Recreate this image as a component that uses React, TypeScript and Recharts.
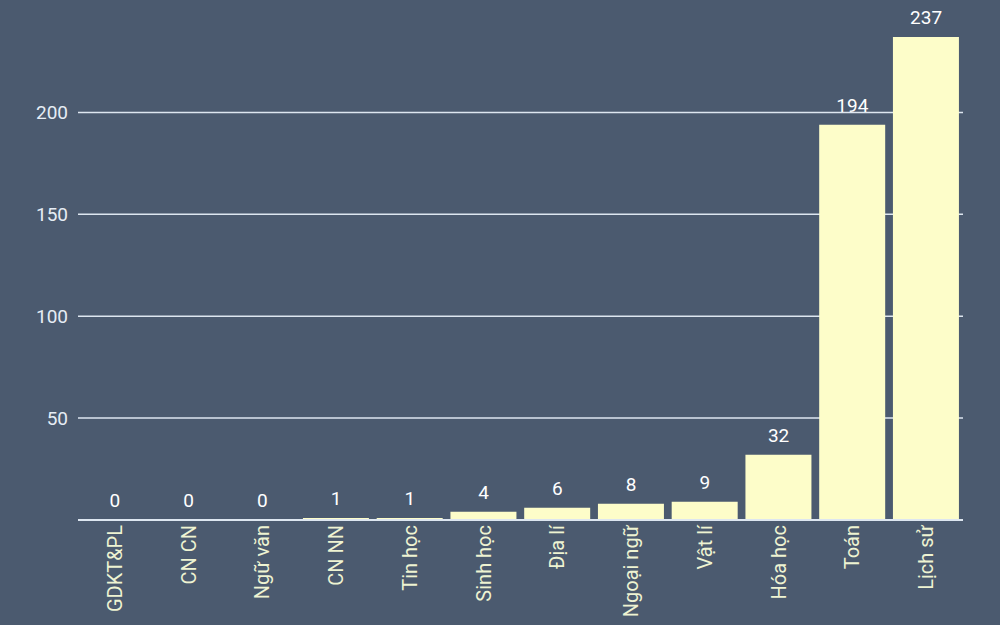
import { ComposedChart, Bar, Line, XAxis, YAxis, CartesianGrid, LabelList } from 'recharts'

// Môn học và số lượng
const subjects = ['GDKT&PL', 'CN CN', 'Ngữ văn', 'CN NN', 'Tin học', 'Sinh học', 'Địa lí', 'Ngoại ngữ', 'Vật lí', 'Hóa học', 'Toán', 'Lịch sử']
const counts = [0, 0, 0, 1, 1, 4, 6, 8, 9, 32, 194, 237]
const yTicks = [50, 100, 150, 200]

const chartData = subjects.map((name, i) => ({ name, value: counts[i] }))

const BG = '#4b5a6f'
const BAR = '#fdfdc9'
const GRID = '#dde6f0'
const FONT = 'Roboto, "Noto Sans", sans-serif'

function XTick(props: any) {
  const { x, y, payload } = props
  return (
    <text
      x={x}
      y={y}
      transform={`rotate(-90, ${x}, ${y})`}
      dx={3}
      dy={7}
      textAnchor="end"
      fill="#eef3d2"
      fontSize={20}
      fontFamily={FONT}
    >
      {payload.value}
    </text>
  )
}

// nhãn giá trị: vẽ theo điểm của Line (ẩn) để cả giá trị 0 cũng hiện
function ValueLabel(props: any) {
  const { x, y, value } = props
  return (
    <text
      x={x}
      y={y - 13}
      textAnchor="middle"
      fill="#ffffff"
      fontSize={19}
      fontFamily={FONT}
    >
      {value}
    </text>
  )
}

export default function App() {
  return (
    <div style={{ position: 'absolute', left: 0, top: 0, width: 1000, height: 625, background: BG }}>
      <ComposedChart
        width={1000}
        height={625}
        data={chartData}
        margin={{ top: 37, right: 37, left: 0, bottom: 0 }}
        barCategoryGap="5%"
      >
        <CartesianGrid vertical={false} horizontalValues={yTicks} stroke={GRID} strokeWidth={1.5} />
        <XAxis
          dataKey="name"
          interval={0}
          height={105}
          tick={<XTick />}
          tickLine={false}
          axisLine={{ stroke: GRID, strokeWidth: 2 }}
        />
        <YAxis
          width={78}
          domain={[0, 237]}
          ticks={yTicks}
          tickLine={false}
          axisLine={false}
          tickMargin={4}
          tick={{ fill: '#e6edf5', fontSize: 19, fontFamily: FONT }}
        />
        <Bar dataKey="value" fill={BAR} isAnimationActive={false} />
        <Line dataKey="value" stroke="none" dot={false} activeDot={false} isAnimationActive={false}>
          <LabelList dataKey="value" content={<ValueLabel />} />
        </Line>
      </ComposedChart>
    </div>
  )
}
